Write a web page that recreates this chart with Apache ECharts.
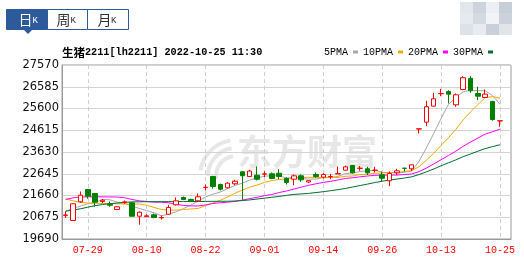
<!DOCTYPE html>
<html><head><meta charset="utf-8">
<script src="https://cdn.jsdelivr.net/npm/echarts@6/dist/echarts.min.js"></script>
<style>html,body{margin:0;padding:0;background:#fff}#c{width:524px;height:258px}</style>
</head><body><div id="c"></div>
<script>
// ---- data ----
const dates = ['07-26','07-27','07-28','07-29','08-01','08-02','08-03','08-04','08-05','08-08',
  '08-09','08-10','08-11','08-12','08-15','08-16','08-17','08-18','08-19','08-22',
  '08-23','08-24','08-25','08-26','08-29','08-30','08-31','09-01','09-02','09-05',
  '09-06','09-07','09-08','09-09','09-13','09-14','09-15','09-16','09-19','09-20',
  '09-21','09-22','09-23','09-26','09-27','09-28','09-29','09-30','10-10','10-11',
  '10-12','10-13','10-14','10-17','10-18','10-19','10-20','10-21','10-24','10-25',''];
const xTickLabels = ['07-29','08-10','08-22','09-01','09-14','09-26','10-13','10-25'];
const yTicks = [19690,20675,21660,22645,23630,24615,25600,26585,27570];

const openV  = [20760,20528,21375,21932,21751,21389,21260,21026,21340,21330,
  20723,20700,20786,20650,20814,21239,21570,21480,21420,22020,
  22521,22158,22008,22190,22733,22521,22578,22630,22643,22670,
  22430,22398,22551,22270,22612,22490,22510,22640,22806,23018,
  22890,22870,22800,22597,22326,22688,22897,22870,24670,24981,
  25705,26270,26370,25768,26460,26963,26280,26099,25918,25040];
const closeV = [20777,21284,21674,21628,21357,21447,21220,21148,21370,20723,
  20904,20740,20664,20664,21117,21420,21480,21420,21601,22034,
  22068,21945,22218,22307,22555,22767,22396,22640,22430,22521,
  22249,22551,22370,22330,22521,22612,22521,22650,22957,22688,
  22897,22688,22806,22444,22657,22778,22890,23050,24681,25678,
  26040,26280,26250,26220,26994,26402,26157,26250,25102,25044];
const lowV   = [20641,20505,21330,21511,21148,21312,21148,21010,21283,20700,
  20333,20690,20632,20573,20800,21207,21450,21400,21410,21887,
  21977,21887,21990,22127,21463,22500,22340,22490,22398,22398,
  22160,22127,22280,22220,22460,22430,22400,22640,22790,22650,
  22780,22590,22700,22295,22082,22600,22747,22778,24468,24798,
  25690,26157,25827,25677,26430,26311,25976,26090,25044,24772];
const highV  = [20935,21298,21841,21932,21770,21502,21389,21160,21434,21360,
  20935,20810,20845,20755,21239,21570,21615,21520,21751,22158,
  22555,22200,22260,22370,22770,22824,22974,22760,22702,22851,
  22490,22612,22612,22345,22700,22670,22640,22974,23020,23040,
  23000,22960,22960,22747,22747,22870,22897,23060,24681,25949,
  26311,26490,26430,26280,27064,27064,26583,26460,25950,25044];

const ma5  = [20950,21080,21180,21290,21344,21478,21465,21360,21308,21182,
  21073,20977,20880,20739,20818,20921,21069,21220,21408,21591,
  21721,21814,21973,22114,22219,22358,22449,22533,22558,22551,
  22447,22478,22424,22404,22404,22477,22471,22527,22652,22686,
  22743,22776,22807,22705,22698,22675,22715,22764,23211,23815,
  24468,25146,25786,26094,26357,26429,26405,26405,26181,25791];
const ma10 = [21510,21420,21350,21320,21310,21300,21295,21285,21275,21263,
  21276,21221,21120,21024,21000,20997,21023,21050,21073,21204,
  21321,21441,21597,21761,21905,22040,22131,22253,22336,22385,
  22403,22463,22479,22481,22478,22462,22475,22476,22528,22545,
  22610,22623,22667,22678,22692,22709,22746,22786,22958,23257,
  23571,23930,24275,24652,25086,25449,25775,26095,26137,26074];
const ma20 = [21480,21555,21590,21600,21600,21600,21595,21590,21560,21480,
  21420,21390,21360,21355,21330,21260,21210,21190,21185,21234,
  21298,21331,21358,21392,21452,21518,21577,21652,21705,21795,
  21862,21952,22038,22121,22191,22251,22303,22364,22432,22465,
  22506,22543,22573,22580,22585,22585,22610,22631,22743,22901,
  23090,23277,23471,23665,23889,24079,24260,24440,24548,24665];
const ma30 = [20950,21000,21058,21130,21200,21250,21290,21320,21350,21370,
  21375,21378,21380,21380,21382,21385,21385,21388,21390,21392,
  21395,21398,21400,21410,21430,21460,21500,21540,21580,21617,
  21666,21709,21732,21755,21794,21833,21876,21926,21979,22045,
  22111,22176,22247,22307,22358,22403,22450,22505,22607,22729,
  22861,23006,23140,23271,23419,23540,23665,23785,23874,23959];

const maNames = ['5PMA','10PMA','20PMA','30PMA'];
const maColors = ['#a6a6a6','#f5a800','#ff00ff','#006e32'];
const maData = [ma5, ma10, ma20, ma30];

// ---- chart ----
const candles = openV.map((o,i)=>[o, closeV[i], lowV[i], highV[i]]);
const showTick = (i)=> xTickLabels.indexOf(dates[i]) >= 0;
const blue = '#2c5a9a';
const chart = echarts.init(document.getElementById('c'), null, {renderer:'canvas'});
const mosaic = [];
const mosaicCols = ['#e3e7ec','#cdd4dd','#eceff3','#c6ced8','#e6eaee','#d4dae2','#f1f3f6','#cbd2dc','#dde2e8','#e8ebef','#c9d0da','#e1e5ea'];
for (let r=0;r<3;r++) for (let c=0;c<4;c++) {
  mosaic.push({type:'rect', shape:{x:460+c*13, y:2+r*11, width:13, height:11}, style:{fill:mosaicCols[r*4+c]}, z:1});
}
const wm = 'rgba(170,170,170,0.28)';
chart.setOption({
  animation:false,
  backgroundColor:'#ffffff',
  title:{
    text:'{c|生猪}{m|2211[lh2211] 2022-10-25 11:30}',
    left:62, top:46, padding:0,
    textStyle:{rich:{
      c:{fontFamily:'Noto Sans CJK SC', fontSize:11.5, lineHeight:13, color:'#000'},
      m:{fontFamily:'Liberation Mono', fontSize:10.2, lineHeight:13, color:'#000'}
    }}
  },
  legend:{
    data:maNames, left:324, top:47, padding:0, align:'right', icon:'rect',
    itemWidth:5, itemHeight:3, itemGap:5,
    textStyle:{fontFamily:'Liberation Mono', fontSize:10, color:'#000', padding:[0,0,0,0]}
  },
  grid:{left:62, right:13, top:65, bottom:19, show:true, borderColor:'#9a9a9a', borderWidth:1},
  xAxis:{
    type:'category', data:dates, boundaryGap:true,
    axisLine:{show:true, lineStyle:{color:'#9a9a9a'}},
    axisTick:{show:false},
    axisLabel:{interval:(i)=>showTick(i), color:'#ff0000', fontFamily:'Liberation Mono', fontSize:10, margin:6},
    splitLine:{show:true, alignWithLabel:true, interval:(i)=>showTick(i), lineStyle:{type:[4,3], color:'#cfcfcf', width:1}}
  },
  yAxis:{
    type:'value', min:yTicks[0], max:yTicks[yTicks.length-1], interval:yTicks[1]-yTicks[0],
    axisLine:{show:true, lineStyle:{color:'#9a9a9a'}},
    axisTick:{show:false},
    axisLabel:{color:'#111', fontFamily:'DejaVu Sans', fontSize:11.5, margin:3, formatter:(v)=>String(Math.round(v))},
    splitLine:{lineStyle:{color:'#d4d4d4', width:1}}
  },
  graphic:[
    {type:'text', z:-1, style:{x:237, y:152, text:'东方财富', fontSize:35, fontWeight:'bold', fontFamily:'Noto Sans CJK SC', fill:wm, textVerticalAlign:'middle'}},
    {type:'arc', z:-1, shape:{cx:236, cy:176, r:36, startAngle:Math.PI*1.05, endAngle:Math.PI*1.45}, style:{stroke:wm, lineWidth:4, fill:'none'}},
    {type:'arc', z:-1, shape:{cx:236, cy:176, r:28, startAngle:Math.PI*1.0, endAngle:Math.PI*1.45}, style:{stroke:wm, lineWidth:4, fill:'none'}},
    {type:'arc', z:-1, shape:{cx:236, cy:176, r:20, startAngle:Math.PI*0.95, endAngle:Math.PI*1.45}, style:{stroke:wm, lineWidth:4, fill:'none'}},
    {type:'rect', shape:{x:6.5, y:9.5, width:41, height:20}, style:{fill:blue, stroke:blue, lineWidth:1}},
    {type:'polygon', shape:{points:[[24,30],[32,30],[28,34]]}, style:{fill:blue}},
    {type:'rect', shape:{x:47.5, y:9.5, width:40, height:20}, style:{fill:'#fff', stroke:blue, lineWidth:1}},
    {type:'rect', shape:{x:87.5, y:9.5, width:41, height:20}, style:{fill:'#fff', stroke:blue, lineWidth:1}},
    {type:'text', style:{x:25.5, y:20, text:'日', fontSize:14, fontFamily:'Noto Sans CJK SC', fill:'#fff', textAlign:'center', textVerticalAlign:'middle'}},
    {type:'text', style:{x:32.5, y:25.5, text:'K', fontSize:9, fontFamily:'Liberation Mono', fill:'#fff', textAlign:'left', textVerticalAlign:'bottom'}},
    {type:'text', style:{x:63.5, y:20, text:'周', fontSize:14, fontFamily:'Noto Sans CJK SC', fill:'#333', textAlign:'center', textVerticalAlign:'middle'}},
    {type:'text', style:{x:70.5, y:25.5, text:'K', fontSize:9, fontFamily:'Liberation Mono', fill:'#333', textAlign:'left', textVerticalAlign:'bottom'}},
    {type:'text', style:{x:104.5, y:20, text:'月', fontSize:14, fontFamily:'Noto Sans CJK SC', fill:'#333', textAlign:'center', textVerticalAlign:'middle'}},
    {type:'text', style:{x:111, y:25.5, text:'K', fontSize:9, fontFamily:'Liberation Mono', fill:'#333', textAlign:'left', textVerticalAlign:'bottom'}}
  ].concat(mosaic),
  series:[
    ...maNames.map((n,k)=>({
      name:n, type:'line', data:maData[k], symbol:'none', smooth:false, z:3,
      lineStyle:{color:maColors[k], width:1}, itemStyle:{color:maColors[k]}
    })),
    {
      name:'K', type:'candlestick', data:candles, barWidth:5, z:4,
      itemStyle:{color:'#ffffff', color0:'#008000', borderColor:'#ff0000', borderColor0:'#008000', borderColorDoji:'#ff0000', borderWidth:1}
    }
  ]
});
</script></body></html>
